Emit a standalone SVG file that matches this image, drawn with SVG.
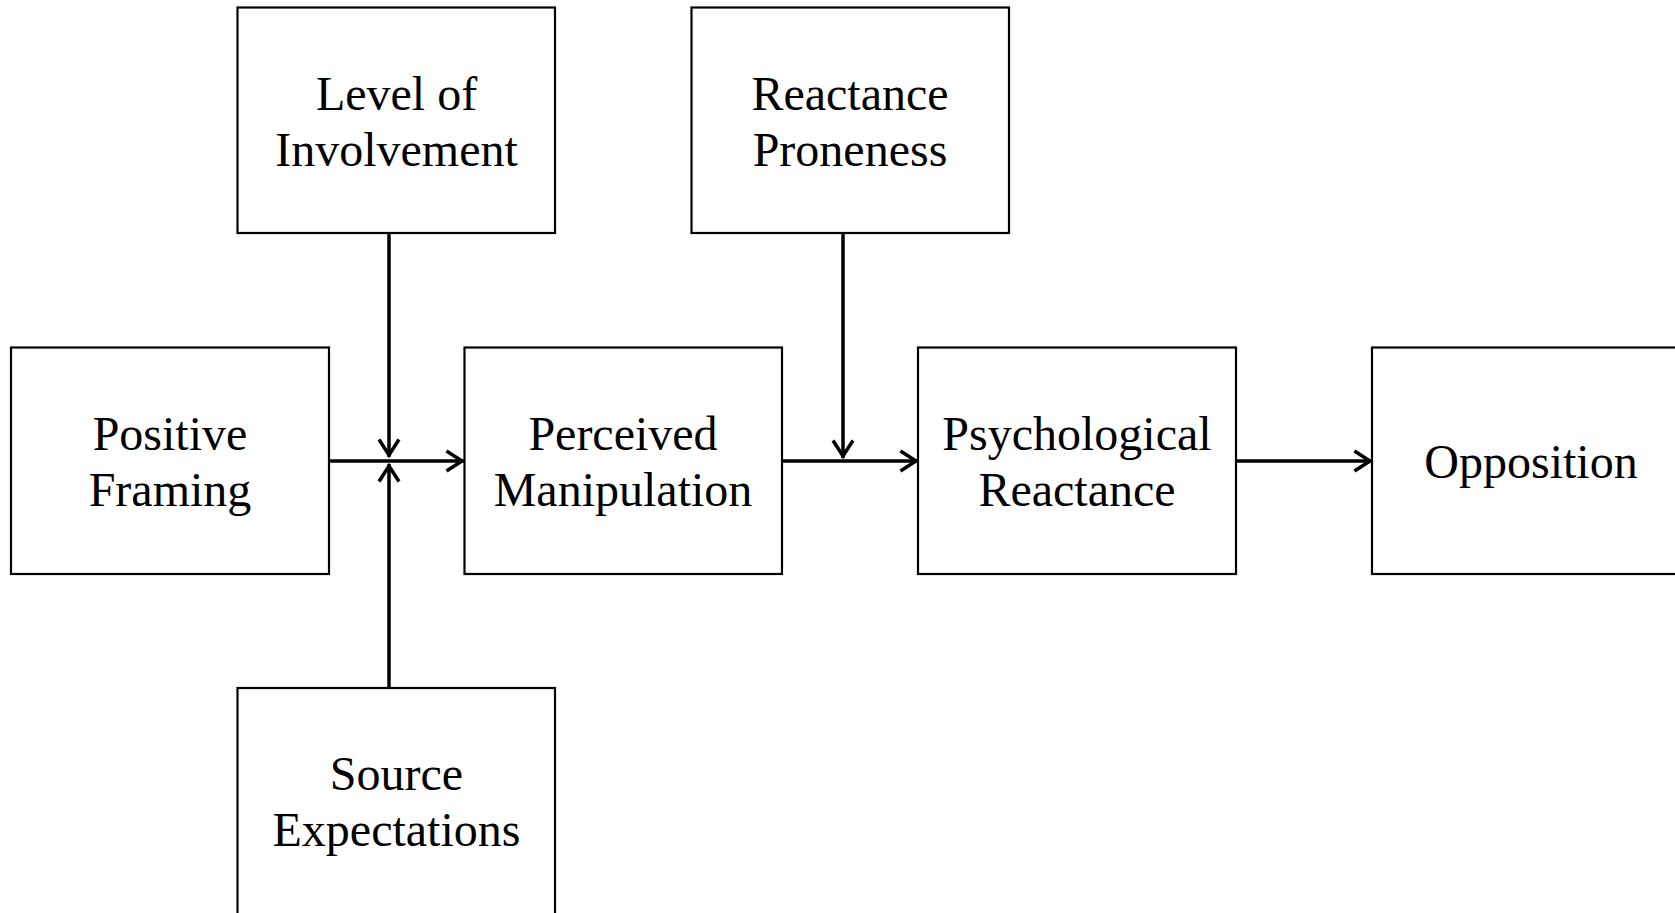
<svg xmlns="http://www.w3.org/2000/svg" width="1675" height="913" viewBox="0 0 1675 913">
<style>
.box{fill:#fff;stroke:#000;stroke-width:2.2}
.t{font-family:"Liberation Serif","Times New Roman",serif;font-size:48px;fill:#000;text-anchor:middle}
.c{stroke:#000;stroke-width:3.5;fill:none}
</style>
<defs>
<marker id="arr" markerUnits="userSpaceOnUse" markerWidth="30" markerHeight="30" viewBox="-25 -15 30 30" refX="0" refY="0" orient="auto" overflow="visible">
<path d="M-17.5,-10 L-2,0 L-17.5,10" fill="none" stroke="#000" stroke-width="3.5"/>
</marker>
</defs>
<rect width="1675" height="913" fill="#fff"/>
<g id="level">
<rect class="box" x="237.5" y="7.5" width="317.5" height="225.5"/>
<text class="t" x="396.5" y="110">Level of</text>
<text class="t" x="396.5" y="165.7">Involvement</text>
</g>
<g id="reactance-proneness">
<rect class="box" x="691.5" y="7.5" width="317.5" height="225.5"/>
<text class="t" x="850" y="110">Reactance</text>
<text class="t" x="850" y="165.7">Proneness</text>
</g>
<g id="positive">
<rect class="box" x="11" y="347.5" width="318" height="226.5"/>
<text class="t" x="170" y="450">Positive</text>
<text class="t" x="170" y="505.7">Framing</text>
</g>
<g id="perceived">
<rect class="box" x="464.5" y="347.5" width="317.5" height="226.5"/>
<text class="t" x="623" y="450">Perceived</text>
<text class="t" x="623" y="505.7">Manipulation</text>
</g>
<g id="psych">
<rect class="box" x="918" y="347.5" width="318" height="226.5"/>
<text class="t" x="1077" y="450">Psychological</text>
<text class="t" x="1077" y="505.7">Reactance</text>
</g>
<g id="opposition">
<rect class="box" x="1372" y="347.5" width="318" height="226.5"/>
<text class="t" x="1531" y="478.3">Opposition</text>
</g>
<g id="source">
<rect class="box" x="237.5" y="688" width="317.5" height="227"/>
<text class="t" x="396.5" y="790">Source</text>
<text class="t" x="396.5" y="845.7">Expectations</text>
</g>
<g id="connectors">
<line class="c" x1="329" y1="461" x2="464" y2="461" marker-end="url(#arr)"/>
<line class="c" x1="389" y1="233" x2="389" y2="457" marker-end="url(#arr)"/>
<line class="c" x1="389" y1="688" x2="389" y2="464" marker-end="url(#arr)"/>
<line class="c" x1="782" y1="461" x2="918" y2="461" marker-end="url(#arr)"/>
<line class="c" x1="843" y1="233" x2="843" y2="458" marker-end="url(#arr)"/>
<line class="c" x1="1236" y1="461" x2="1372" y2="461" marker-end="url(#arr)"/>
</g>
</svg>
